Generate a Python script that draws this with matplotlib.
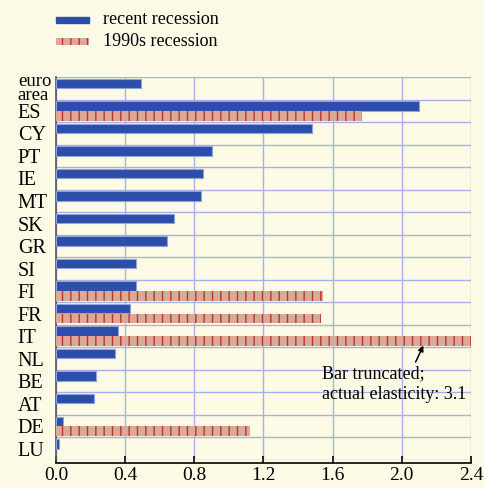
import matplotlib.pyplot as plt
import numpy as np

plt.rcParams['font.family'] = ['Liberation Serif', 'DejaVu Serif']
plt.rcParams['hatch.linewidth'] = 1.0

countries = ['euro\narea', 'ES', 'CY', 'PT', 'IE', 'MT', 'SK', 'GR', 'SI',
             'FI', 'FR', 'IT', 'NL', 'BE', 'AT', 'DE', 'LU']
recent = [0.49, 2.10, 1.48, 0.90, 0.85, 0.84, 0.68, 0.64, 0.46,
          0.46, 0.43, 0.36, 0.34, 0.23, 0.22, 0.04, 0.015]
# 1990s values, None where there is no bar; IT is truncated at the axis end
nineties = [None, 1.77, None, None, None, None, None, None, None,
            1.545, 1.53, 3.1, None, None, None, 1.12, None]
xmax = 2.4

bg = '#fdfbe6'
blue = '#2c4ea8'
salmon = '#dca898'
stripe = '#b5392e'
gridc = '#a9b0e6'

fig = plt.figure(figsize=(4.84, 4.88), dpi=100, facecolor=bg)
ax = fig.add_axes([0.1157, 0.0574, 0.8573, 0.7846])
ax.set_facecolor(bg)

y = np.arange(len(countries))
h = 0.42
ax.barh(y - 0.22, recent, height=h, color=blue, edgecolor='#8fa2dc',
        linewidth=0.8, zorder=3)
for i, v in enumerate(nineties):
    if v is None:
        continue
    ax.barh(i + 0.22, min(v, xmax), height=h, color=salmon, edgecolor=stripe,
            hatch='||', linewidth=0, zorder=3)

ax.set_xlim(0, xmax)
ax.set_ylim(len(countries) - 0.5, -0.5)
xt = np.arange(0, 2.41, 0.4)
ax.set_xticks(xt)
ax.set_xticklabels(['%.1f' % t for t in xt])
ax.set_yticks(y)
ax.set_yticklabels(countries, linespacing=0.74, ha='left')
ax.set_yticks(np.arange(-0.5, len(countries), 1), minor=True)
ax.tick_params(axis='y', which='both', length=0, pad=27.5, labelsize=14.5)
ax.tick_params(axis='x', direction='in', length=5, width=1.2, pad=3,
               labelsize=14)
ax.get_yticklabels()[0].set_fontsize(13.5)
ax.grid(axis='x', which='major', color=gridc, linewidth=1, zorder=0)
ax.grid(axis='y', which='minor', color=gridc, linewidth=1, zorder=0)
for s in ['top', 'right']:
    ax.spines[s].set_visible(False)
ax.spines['left'].set_color('#555555')
ax.spines['left'].set_linewidth(1.2)
ax.spines['bottom'].set_linewidth(1.2)
ax.spines['bottom'].set_position(('outward', 2))

ax.text(1.54, 13.15, 'Bar truncated;\nactual elasticity: 3.1', fontsize=13,
        linespacing=1.25, va='center', ha='left')
ax.annotate('', xy=(2.125, 11.42), xytext=(2.08, 12.15),
            arrowprops=dict(arrowstyle='-|>', color='black', lw=1.1,
                            shrinkA=0, shrinkB=0, mutation_scale=8))

# legend
fig.patches.append(plt.Rectangle((56 / 484, 1 - 23 / 488), 33 / 484, 6 / 488,
                                 transform=fig.transFigure, color=blue))
fig.patches.append(plt.Rectangle((56 / 484, 1 - 45 / 488), 33 / 484, 7 / 488,
                                 transform=fig.transFigure, facecolor=salmon,
                                 edgecolor=stripe, hatch='||', linewidth=0))
fig.text(103 / 484, 1 - 19 / 488, 'recent recession', fontsize=13, va='center')
fig.text(103 / 484, 1 - 41 / 488, '1990s recession', fontsize=13, va='center')

fig.savefig('out.png', dpi=100, facecolor=bg)
